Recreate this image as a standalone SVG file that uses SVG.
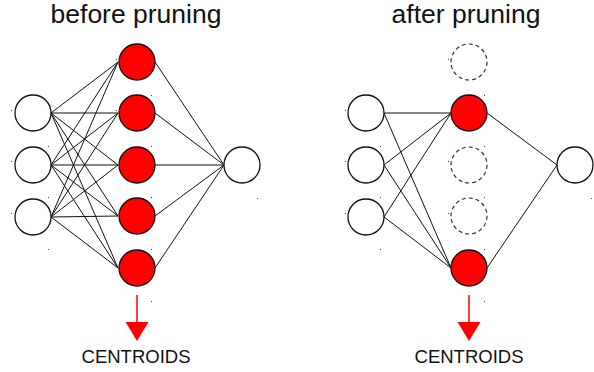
<svg xmlns="http://www.w3.org/2000/svg" width="594" height="372" viewBox="0 0 594 372">
  <style>
    .title { font-family: "Liberation Sans", Arial, sans-serif; font-size: 26.5px; fill: #111; text-anchor: middle; }
    .label { font-family: "Liberation Sans", Arial, sans-serif; font-size: 18.5px; fill: #111; text-anchor: middle; }
    .plain { fill: #fff; stroke: #111; stroke-width: 1.3; }
    .hidden { fill: #ff0000; stroke: #111; stroke-width: 1.3; }
    .pruned { fill: none; stroke: #333; stroke-width: 1.2; stroke-dasharray: 4 3; }
    .edge { stroke: #111; stroke-width: 1; fill: none; }
    .arrow { stroke: #ff0000; stroke-width: 1.5; fill: none; }
    .dot { fill: #444; }
  </style>
  <defs>
    <marker id="head" viewBox="0 0 19 23" refX="0" refY="11.5" markerWidth="19" markerHeight="23" markerUnits="userSpaceOnUse" orient="auto">
      <path d="M0,0 L19,11.5 L0,23 Z" fill="#ff0000"/>
    </marker>
  </defs>

  <rect width="594" height="372" fill="#fff"/>

  <text class="title" x="136" y="23">before pruning</text>
  <text class="title" x="466" y="23">after pruning</text>

  <!-- connectors: left network (fully connected) -->
  <g id="connectors-before">
    <path class="edge" d="M51,113 L118,62 M51,113 L118,113 M51,113 L118,165 M51,113 L118,216 M51,113 L118,268"/>
    <path class="edge" d="M51,165 L118,62 M51,165 L118,113 M51,165 L118,165 M51,165 L118,216 M51,165 L118,268"/>
    <path class="edge" d="M51,217 L118,62 M51,217 L118,113 M51,217 L118,165 M51,217 L118,216 M51,217 L118,268"/>
    <path class="edge" d="M155,62 L224,165 M155,113 L224,165 M155,165 L224,165 M155,216 L224,165 M155,268 L224,165"/>
    <path class="arrow" d="M137,295 L137,322" marker-end="url(#head)"/>
  </g>

  <!-- connectors: right network (pruned) -->
  <g id="connectors-after">
    <path class="edge" d="M384,113 L451,113 M384,113 L451,268 M384,165 L451,113 M384,165 L451,268 M384,217 L451,113 M384,217 L451,268"/>
    <path class="edge" d="M487,113 L557,165 M487,268 L557,165"/>
    <path class="arrow" d="M469,295 L469,322" marker-end="url(#head)"/>
  </g>

  <!-- left network nodes -->
  <g id="before-in1"><circle class="plain" cx="33" cy="113" r="18"/></g>
  <g id="before-in2"><circle class="plain" cx="33" cy="165" r="18"/></g>
  <g id="before-in3"><circle class="plain" cx="33" cy="217" r="18"/></g>
  <g id="before-h1"><circle class="hidden" cx="137" cy="62" r="18"/></g>
  <g id="before-h2"><circle class="hidden" cx="137" cy="113" r="18"/></g>
  <g id="before-h3"><circle class="hidden" cx="137" cy="165" r="18"/></g>
  <g id="before-h4"><circle class="hidden" cx="137" cy="216" r="18"/></g>
  <g id="before-h5"><circle class="hidden" cx="137" cy="268" r="18"/></g>
  <g id="before-out"><circle class="plain" cx="242" cy="165" r="18"/></g>

  <!-- right network nodes -->
  <g id="after-in1"><circle class="plain" cx="366" cy="113" r="18"/></g>
  <g id="after-in2"><circle class="plain" cx="366" cy="165" r="18"/></g>
  <g id="after-in3"><circle class="plain" cx="366" cy="217" r="18"/></g>
  <g id="after-h1"><circle class="pruned" cx="469" cy="62" r="18"/></g>
  <g id="after-h2"><circle class="hidden" cx="469" cy="113" r="18"/></g>
  <g id="after-h3"><circle class="pruned" cx="469" cy="165" r="18"/></g>
  <g id="after-h4"><circle class="pruned" cx="469" cy="216" r="18"/></g>
  <g id="after-h5"><circle class="hidden" cx="469" cy="268" r="18"/></g>
  <g id="after-out"><circle class="plain" cx="575" cy="165" r="18"/></g>

  <text class="label" x="136" y="363">CENTROIDS</text>
  <text class="label" x="469" y="363">CENTROIDS</text>

  <!-- stray anchor points -->
  <g id="anchors">
    <rect class="dot" x="11" y="110" width="1" height="1"/>
    <rect class="dot" x="48" y="146" width="1" height="1"/>
    <rect class="dot" x="11" y="161" width="1" height="1"/>
    <rect class="dot" x="48" y="197" width="1" height="1"/>
    <rect class="dot" x="11" y="213" width="1" height="1"/>
    <rect class="dot" x="48" y="249" width="1" height="1"/>
    <rect class="dot" x="116" y="59" width="1" height="1"/>
    <rect class="dot" x="151" y="95" width="1" height="1"/>
    <rect class="dot" x="116" y="110" width="1" height="1"/>
    <rect class="dot" x="151" y="146" width="1" height="1"/>
    <rect class="dot" x="151" y="197" width="1" height="1"/>
    <rect class="dot" x="151" y="249" width="1" height="1"/>
    <rect class="dot" x="257" y="198" width="1" height="1"/>
    <rect class="dot" x="151" y="301" width="1" height="1"/>
    <rect class="dot" x="345" y="110" width="1" height="1"/>
    <rect class="dot" x="380" y="146" width="1" height="1"/>
    <rect class="dot" x="345" y="161" width="1" height="1"/>
    <rect class="dot" x="380" y="197" width="1" height="1"/>
    <rect class="dot" x="345" y="213" width="1" height="1"/>
    <rect class="dot" x="380" y="249" width="1" height="1"/>
    <rect class="dot" x="448" y="59" width="1" height="1"/>
    <rect class="dot" x="484" y="95" width="1" height="1"/>
    <rect class="dot" x="484" y="146" width="1" height="1"/>
    <rect class="dot" x="448" y="161" width="1" height="1"/>
    <rect class="dot" x="484" y="197" width="1" height="1"/>
    <rect class="dot" x="448" y="213" width="1" height="1"/>
    <rect class="dot" x="484" y="249" width="1" height="1"/>
    <rect class="dot" x="591" y="198" width="1" height="1"/>
    <rect class="dot" x="484" y="301" width="1" height="1"/>
  </g>
</svg>
